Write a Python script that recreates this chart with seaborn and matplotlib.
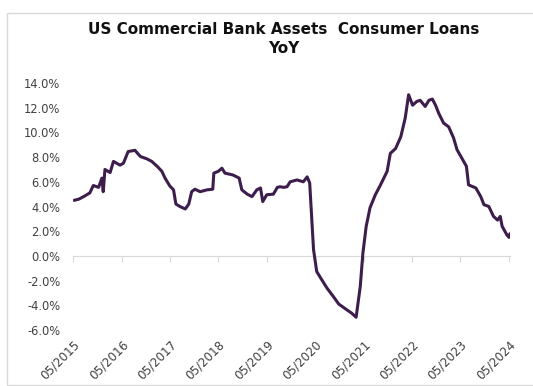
import matplotlib
matplotlib.use('Agg')
import matplotlib.pyplot as plt
from matplotlib.patches import Rectangle
from matplotlib.ticker import FuncFormatter, MultipleLocator
import pandas as pd
import seaborn as sns

title = "US Commercial Bank Assets  Consumer Loans\nYoY"

dates = [
    "2015-05-10", "2015-06-15", "2015-07-20", "2015-09-05", "2015-10-01", "2015-11-10",
    "2015-12-05", "2015-12-15", "2015-12-28", "2016-02-05", "2016-03-01", "2016-04-20",
    "2016-05-15", "2016-06-20", "2016-08-10", "2016-09-20", "2016-11-10", "2016-12-15",
    "2017-01-25", "2017-03-01", "2017-03-25", "2017-05-01", "2017-05-28", "2017-06-15",
    "2017-07-15", "2017-08-25", "2017-09-20", "2017-10-12", "2017-11-05", "2017-12-15",
    "2018-02-05", "2018-03-20", "2018-03-28", "2018-05-01", "2018-05-28", "2018-06-20",
    "2018-08-20", "2018-10-05", "2018-10-25", "2018-12-05", "2019-01-10", "2019-02-15",
    "2019-03-15", "2019-04-01", "2019-05-01", "2019-06-20", "2019-07-20", "2019-08-10",
    "2019-09-05", "2019-10-01", "2019-10-25", "2019-12-15", "2020-02-01", "2020-03-01",
    "2020-03-20", "2020-04-05", "2020-04-18", "2020-05-12", "2020-06-20", "2020-07-28",
    "2020-09-15", "2020-10-25", "2020-12-10", "2021-02-01", "2021-03-05", "2021-04-05",
    "2021-04-25", "2021-05-20", "2021-06-18", "2021-07-28", "2021-09-05", "2021-10-25",
    "2021-11-18", "2021-12-28", "2022-02-05", "2022-03-10", "2022-04-05", "2022-05-05",
    "2022-06-05", "2022-07-01", "2022-08-08", "2022-09-05", "2022-10-01", "2022-10-25",
    "2022-11-18", "2022-12-25", "2023-02-01", "2023-03-10", "2023-04-05", "2023-05-12",
    "2023-06-15", "2023-07-01", "2023-08-25", "2023-10-01", "2023-10-25", "2023-12-01",
    "2024-01-05", "2024-02-05", "2024-02-25", "2024-03-10", "2024-04-15", "2024-05-01",
    "2024-05-08",
]
yoy = [
    4.5, 4.6, 4.8, 5.1, 5.7, 5.55,
    6.3, 5.2, 7.0, 6.75, 7.65, 7.35,
    7.5, 8.45, 8.55, 8.05, 7.85, 7.65,
    7.25, 6.85, 6.3, 5.65, 5.35, 4.2,
    4.0, 3.8, 4.2, 5.2, 5.4, 5.2,
    5.35, 5.4, 6.7, 6.85, 7.1, 6.7,
    6.55, 6.3, 5.35, 5.0, 4.8, 5.35,
    5.5, 4.4, 4.95, 5.0, 5.55, 5.6,
    5.55, 5.6, 6.0, 6.15, 6.0, 6.4,
    5.9, 2.9, 0.5, -1.27, -1.95, -2.6,
    -3.3, -3.9, -4.25, -4.65, -4.97, -2.5,
    0.2, 2.4, 3.9, 4.95, 5.75, 6.85,
    8.3, 8.7, 9.65, 11.15, 13.05, 12.2,
    12.5, 12.6, 12.1, 12.6, 12.7, 12.2,
    11.55, 10.75, 10.45, 9.55, 8.6, 7.9,
    7.25, 5.75, 5.5, 4.8, 4.15, 4.0,
    3.2, 2.9, 3.2, 2.4, 1.7, 1.5,
    1.8,
]
tick_dates = ["2015-05-01", "2016-05-01", "2017-05-01", "2018-05-01", "2019-05-01",
              "2020-05-01", "2021-05-01", "2022-05-01", "2023-05-01", "2024-05-01"]
tick_labels = ["05/2015", "05/2016", "05/2017", "05/2018", "05/2019",
               "05/2020", "05/2021", "05/2022", "05/2023", "05/2024"]

sns.set_theme(style='white')
plt.rcParams['font.family'] = ['DejaVu Sans']

df = pd.DataFrame({'date': pd.to_datetime(dates), 'yoy': yoy})
ticks = pd.to_datetime(tick_dates)

fig = plt.figure(figsize=(5.33, 3.86), dpi=100)
fig.patches.append(Rectangle((7 / 533, 1 / 386), 1.0, 372 / 386, transform=fig.transFigure,
                             fill=False, ec='#d9d9d9', lw=1))

ax = fig.add_axes([73 / 533, 1 - 330 / 386, (510.2 - 73) / 533, 247 / 386])
sns.lineplot(data=df, x='date', y='yoy', ax=ax, color='#3d1d4c', lw=2.2)

ax.set_ylim(-6, 14)
ax.set_xlim(pd.Timestamp('2015-05-01'), pd.Timestamp('2024-05-10'))
ax.yaxis.set_major_locator(MultipleLocator(2))
ax.yaxis.set_major_formatter(FuncFormatter(lambda v, p: f"{v:.1f}%"))
ax.set_xticks(ticks)
ax.set_xticklabels(tick_labels, rotation=45, ha='right', va='top', rotation_mode='anchor')
ax.tick_params(axis='both', length=0, labelsize=8.3, colors='#404040')
ax.tick_params(axis='y', pad=9)
ax.tick_params(axis='x', pad=6, labelsize=8.6)
ax.set_xlabel('')
ax.set_ylabel('')
for s in ax.spines.values():
    s.set_visible(False)
ax.grid(False)

sec = ax.secondary_xaxis(0.3)
sec.set_xticks(ticks)
sec.set_xticklabels([''] * len(ticks))
sec.tick_params(axis='x', direction='out', length=4, width=0.8, color='#d9d9d9')
for s in sec.spines.values():
    s.set_color('#d9d9d9')
    s.set_linewidth(0.8)

fig.text(284 / 533, 1 - 39 / 386, title, ha='center', va='center', fontsize=11,
         fontweight='bold', family=['DejaVu Sans'], linespacing=1.4, color='#111111')

fig.savefig('out.png', dpi=100)
